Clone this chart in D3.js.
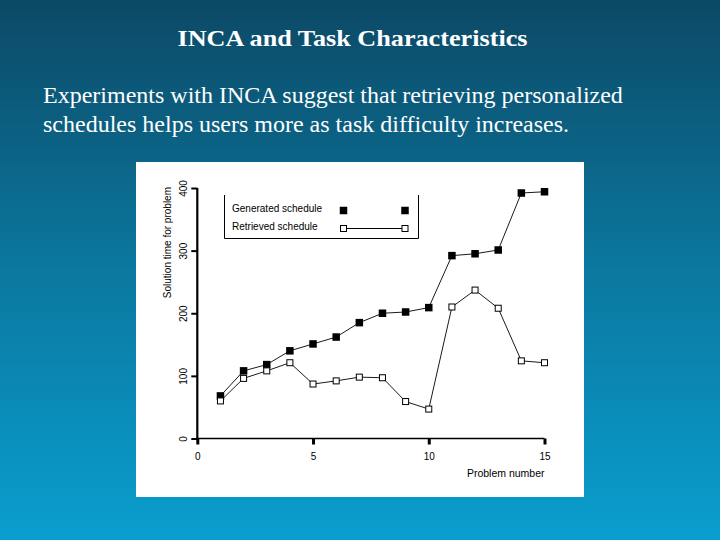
<!DOCTYPE html>
<html>
<head>
<meta charset="utf-8">
<script src="https://cdn.jsdelivr.net/npm/d3@7"></script>
<style>
  html, body { margin: 0; padding: 0; background: #0b6f96; }
  svg { display: block; }
</style>
</head>
<body>
<script>
// ---- data ----
const problems  = [1, 2, 3, 4, 5, 6, 7, 8, 9, 10, 11, 12, 13, 14, 15];
const generated = [68, 108, 118, 140, 151, 162, 185, 200, 202, 209, 292, 295, 301, 392, 394];
const retrieved = [60, 96, 108, 121, 87, 92, 98, 97, 59, 47, 210, 237, 208, 124, 121];
const xTicks = [0, 5, 10, 15];
const yTicks = [0, 100, 200, 300, 400];
const seriesNames = ["Generated schedule", "Retrieved schedule"];
const titleText = "INCA and Task Characteristics";
const bodyLines = [
  "Experiments with INCA suggest that retrieving personalized",
  "schedules helps users more as task difficulty increases."
];
const yTitle = "Solution time for problem";
const xTitle = "Problem number";

// ---- layout ----
const W = 720, H = 540;
const svg = d3.select("body").append("svg").attr("width", W).attr("height", H);

const defs = svg.append("defs");
const grad = defs.append("linearGradient").attr("id", "bg")
  .attr("x1", 0).attr("y1", 0).attr("x2", 0).attr("y2", 1);
grad.append("stop").attr("offset", "0%").attr("stop-color", "#0c4966");
grad.append("stop").attr("offset", "50%").attr("stop-color", "#0b789f");
grad.append("stop").attr("offset", "100%").attr("stop-color", "#0a9ecf");
svg.append("rect").attr("width", W).attr("height", H).attr("fill", "url(#bg)");

svg.append("text")
  .attr("x", 177.5).attr("y", 46)
  .attr("textLength", 350).attr("lengthAdjust", "spacingAndGlyphs")
  .attr("font-family", "'Liberation Serif', 'Times New Roman', serif")
  .attr("font-weight", "bold")
  .attr("font-size", 23.5)
  .attr("fill", "#ffffff")
  .text(titleText);

svg.selectAll("text.body").data(bodyLines).enter().append("text")
  .attr("class", "body")
  .attr("x", 43)
  .attr("y", (d, i) => 103 + i * 28.5)
  .attr("font-family", "'Liberation Serif', 'Times New Roman', serif")
  .attr("font-size", 24)
  .attr("fill", "#ffffff")
  .text(d => d);

// white panel
svg.append("rect").attr("x", 136).attr("y", 162).attr("width", 448).attr("height", 335)
  .attr("fill", "#ffffff");

const x = d3.scaleLinear().domain([0, 15]).range([197.3, 544.5]);
const y = d3.scaleLinear().domain([0, 400]).range([438.5, 188]);

const sans = "'Liberation Sans', Arial, Helvetica, sans-serif";

// x axis
const gx = svg.append("g").attr("transform", `translate(0,${y(0)})`)
  .call(d3.axisBottom(x).tickValues(xTicks).tickSize(6).tickPadding(8).tickSizeOuter(0));
gx.select(".domain").attr("stroke", "#000").attr("stroke-width", 1.3)
  .attr("d", `M${x(0)},0H${x(15)}`);
gx.selectAll(".tick line").attr("stroke", "#000").attr("stroke-width", 3);
gx.selectAll(".tick text").attr("font-family", sans).attr("font-size", 10).attr("fill", "#000");

// y axis
const gy = svg.append("g").attr("transform", `translate(${x(0)},0)`)
  .call(d3.axisLeft(y).tickValues(yTicks).tickSize(6).tickSizeOuter(0));
gy.select(".domain").attr("stroke", "#000").attr("stroke-width", 2.2)
  .attr("d", `M0,${y(0) + 0.7}V${y(400)}`);
gy.selectAll(".tick line").attr("stroke", "#000").attr("stroke-width", 2);
gy.selectAll(".tick text")
  .attr("font-family", sans).attr("font-size", 10).attr("fill", "#000")
  .attr("x", 0).attr("y", -14).attr("dy", null)
  .attr("text-anchor", "middle")
  .attr("dominant-baseline", "central")
  .attr("transform", "rotate(-90)");

// axis titles
svg.append("text")
  .attr("transform", `translate(167,${y(400) - 1}) rotate(-90)`)
  .attr("text-anchor", "end")
  .attr("dominant-baseline", "central")
  .attr("font-family", sans).attr("font-size", 10)
  .attr("fill", "#000")
  .text(yTitle);

svg.append("text")
  .attr("x", x(15)).attr("y", 477)
  .attr("text-anchor", "end")
  .attr("font-family", sans).attr("font-size", 10.5)
  .attr("fill", "#000")
  .text(xTitle);

// lines
const line = d3.line().x((d, i) => x(problems[i])).y(d => y(d));
svg.append("path").datum(generated).attr("d", line)
  .attr("fill", "none").attr("stroke", "#000").attr("stroke-width", 0.9);
svg.append("path").datum(retrieved).attr("d", line)
  .attr("fill", "none").attr("stroke", "#000").attr("stroke-width", 0.9);

// markers
const gs = 7.5, rs = 6;
svg.selectAll("rect.gen").data(generated).enter().append("rect")
  .attr("class", "gen")
  .attr("x", (d, i) => x(problems[i]) - gs / 2)
  .attr("y", d => y(d) - gs / 2)
  .attr("width", gs).attr("height", gs)
  .attr("fill", "#000");
svg.selectAll("rect.ret").data(retrieved).enter().append("rect")
  .attr("class", "ret")
  .attr("x", (d, i) => x(problems[i]) - rs / 2)
  .attr("y", d => y(d) - rs / 2)
  .attr("width", rs).attr("height", rs)
  .attr("fill", "#fff").attr("stroke", "#000").attr("stroke-width", 1);

// legend
const lg = svg.append("g");
lg.append("path")
  .attr("d", "M224.5,195V238.5H418.5V195")
  .attr("fill", "none").attr("stroke", "#000").attr("stroke-width", 1);
lg.selectAll("text").data(seriesNames).enter().append("text")
  .attr("x", 232).attr("y", (d, i) => 208 + i * 18)
  .attr("dominant-baseline", "central")
  .attr("font-family", sans).attr("font-size", 10)
  .attr("fill", "#000")
  .text(d => d);
const lgX = [343.5, 405];
lg.selectAll("rect.lgen").data(lgX).enter().append("rect")
  .attr("x", d => d - gs / 2).attr("y", 210.5 - gs / 2)
  .attr("width", gs).attr("height", gs).attr("fill", "#000");
lg.append("line").attr("x1", lgX[0]).attr("x2", lgX[1]).attr("y1", 228.5).attr("y2", 228.5)
  .attr("stroke", "#000").attr("stroke-width", 1);
lg.selectAll("rect.lret").data(lgX).enter().append("rect")
  .attr("x", d => d - rs / 2).attr("y", 228.5 - rs / 2)
  .attr("width", rs).attr("height", rs)
  .attr("fill", "#fff").attr("stroke", "#000").attr("stroke-width", 1);
</script>
</body>
</html>
